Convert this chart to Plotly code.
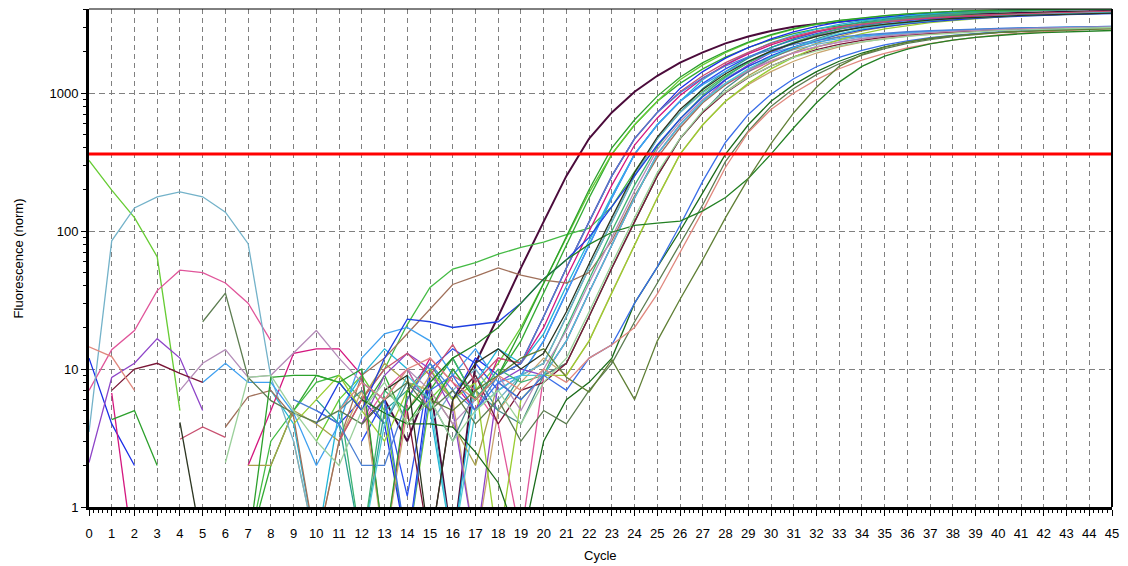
import plotly.graph_objects as go

N = None
cycles = list(range(46))
threshold = 361

c01 = [N,N,N,N,N, N,N,N,N,N, N,N,4,6,3, 8,0.5,11,24,54, 117,251,468,724,1023, 1334,1660,1972,2291,2570, 2818,3020,3163,3293,3408, 3508,3589,3652,3694,3736, 3780,3824,3868,3900,3915, 3925]
c02 = [N,N,N,N,N, N,N,0.5,2,5, 9,8,5,9,4, 7,12,6,9,16, 36,79,174,361,589, 871,1175,1496,1820,2138, 2427,2692,2917,3090,3236, 3350,3467,3548,3631,3673, 3715,3758,3802,3846,3890, 3910]
c03 = [325,198,125,65,5, N,N,N,N,N, 3,6,9,5,0.5, 6,9,7,11,20, 42,90,190,361,589, 871,1250,1600,1960,2310, 2620,2900,3150,3340,3490, 3620,3740,3830,3900,3950, 3990,4020,4040,4060,4070, 4080]
c04 = [N,N,N,N,N, N,N,0.5,3,5, 8,9,6,10,21, 39,53,59,68,76, 83,94,105,150,270, 468,724,1023,1334,1660, 1972,2291,2570,2818,3020, 3163,3293,3408,3508,3589, 3652,3694,3736,3780,3824, 3868]
c05 = [12,4,2,N,N, N,N,N,N,N, 5,4,6,4,0.5, 9,6,12,9,11, 24,54,117,251,468, 724,1080,1430,1790,2130, 2470,2770,3040,3260,3420, 3560,3680,3790,3870,3930, 3970,4010,4030,4050,4065, 4075]
c06 = [N,N,N,N,N, N,N,N,N,N, N,N,3,6,1.2, 10,14,11,7,9, 16,36,79,174,361, 589,871,1175,1496,1820, 2138,2427,2692,2917,3090, 3236,3350,3467,3548,3631, 3673,3715,3758,3802,3846, 3890]
c07 = [N,N,N,N,N, N,N,N,7,4, 0.5,5,9,14,10, 5,0.5,8,14,11, 18,40,85,180,361, 589,871,1250,1600,1960, 2310,2620,2900,3150,3340, 3490,3620,3740,3830,3900, 3950,3990,4020,4040,4060, 4070]
c08 = [N,N,N,N,N, N,N,N,N,N, 6,4,0.5,5,7, 11,6,9,5,9, 11,24,54,117,251, 468,724,1080,1430,1790, 2130,2470,2770,3040,3260, 3420,3560,3680,3790,3870, 3930,3970,4010,4030,4050, 4065]
c09 = [N,6.7,0.4,N,N, N,N,2,5,13, 14,14,9,0.5,6, 12,8,5,12,11, 20,46,100,215,420, 660,960,1280,1600,1920, 2230,2520,2780,2980,3140, 3280,3390,3490,3570,3640, 3690,3730,3770,3810,3850, 3890]
c10 = [7,13.8,19,37,52, 50,42,30,16,N, N,N,4,7,10, 5,9,7,4,0.6, 9,16,36,79,174, 361,589,871,1150,1430, 1700,1950,2160,2340,2480, 2590,2680,2750,2810,2860, 2900,2930,2960,2980,3000, 3020]
c11 = [N,N,N,N,N, N,N,2,2,5, 4,3,6,11,8, 7,4,2,8,6, 9,11,24,54,117, 251,468,724,1023,1334, 1660,1972,2291,2570,2818, 3020,3163,3293,3408,3508, 3589,3652,3694,3736,3780, 3824]
c12 = [N,N,N,N,N, N,N,N,N,3, 0.5,3,7,0.5,5, 9,6,0.5,5,8, 12,9,16,36,79, 174,361,589,871,1150, 1430,1700,1950,2160,2340, 2480,2590,2680,2750,2810, 2860,2900,2930,2960,2980, 3000]
c13 = [3.5,85,147,177,192, 177,137,81,8.7,3, 0.5,N,N,N,N, 4,7,10,6,9, 11,24,54,117,251, 468,724,1005,1290,1570, 1830,2060,2250,2410,2540, 2640,2720,2780,2835,2880, 2915,2945,2970,2990,3010, 3028]
c14 = [2.1,8.7,11,16.6,12, 5,N,N,N,N, N,N,4,9,13, 10,5,0.5,8,10, 9,16,36,79,174, 361,589,871,1250,1600, 1960,2310,2620,2900,3150, 3340,3490,3620,3740,3830, 3900,3950,3990,4020,4040, 4060]
c15 = [N,N,N,N,N, N,3.8,6.3,7,4.5, 0.5,3,9,12,18, 27,41,47,54,48, 44,42,50,85,180, 340,560,850,1150,1470, 1790,2100,2390,2650,2880, 3050,3200,3320,3440,3520, 3600,3650,3690,3730,3770, 3810]
c16 = [N,N,N,N,N, 8,11,8,8,4.8, 2,4,12,18,20, 16,9,14,8,9, 16,36,79,174,361, 589,871,1150,1430,1700, 1950,2160,2340,2480,2590, 2680,2750,2810,2860,2900, 2930,2960,2980,3000,3020, 3035]
c17 = [N,N,N,N,N, N,N,N,N,N, N,5,7,4,8, 6,3,7,5,4, 9,11,24,54,117, 251,468,724,1080,1430, 1790,2130,2470,2770,3040, 3260,3420,3560,3680,3790, 3870,3930,3970,4010,4030, 4050]
c18 = [N,7,10,11,9.3, 8,N,N,N,N, N,N,N,N,5, 0.5,6,9,4,7, 8,11,24,54,117, 251,468,724,1005,1290, 1570,1830,2060,2250,2410, 2540,2640,2720,2780,2835, 2880,2915,2945,2970,2990, 3010]
c19 = [N,N,N,N,N, N,N,N,N,4, 6,9,5,3,7, 10,6,8,0.5,6, 9,9,16,36,79, 174,361,589,871,1175, 1496,1820,2138,2427,2692, 2917,3090,3236,3350,3467, 3548,3631,3673,3715,3758, 3802]
c20 = [N,N,N,N,N, N,N,N,N,N, N,6,0.5,7,5, 8,12,6,10,8, 9,20,45,100,215, 410,650,960,1310,1670, 2010,2340,2650,2930,3170, 3360,3510,3640,3750,3840, 3900,3950,3990,4020,4040, 4055]
c21 = [N,N,N,N,3.1, 3.8,3.2,N,N,N, N,3,6,10,13, 9,15,8,12,11, 24,54,117,251,468, 724,1023,1334,1660,1972, 2291,2570,2818,3020,3163, 3293,3408,3508,3589,3652, 3694,3736,3780,3824,3868, 3900]
c22 = [N,N,N,N,N, N,N,N,N,6, 5,4,2,2,6, 11,7,5,9,11, 24,54,117,251,468, 724,1005,1290,1570,1830, 2060,2250,2410,2540,2640, 2720,2780,2835,2880,2915, 2945,2970,2990,3010,3028, 3042]
c23 = [N,N,N,N,7, 11,13.8,8.7,9,13, 19,12,8,6,10, 7,4,6,9,5, 10,19,42,90,195, 390,620,900,1180,1460, 1720,1960,2170,2340,2480, 2590,2670,2740,2800,2850, 2890,2920,2950,2975,2995, 3015]
c24 = [N,N,N,N,N, N,N,N,N,N, 4,8,5,12,23, 22,20,21,22,30, 45,62,90,150,250, 420,650,940,1250,1560, 1860,2150,2420,2660,2870, 3040,3180,3300,3400,3480, 3550,3610,3660,3700,3740, 3770]
c25 = [N,4.3,5,2,N, N,N,0.5,8.7,9, 9,8,10,0.5,7, 5,10,6,9,19, 42,92,200,400,640, 950,1300,1660,2000,2340, 2650,2930,3170,3360,3510, 3640,3750,3840,3900,3950, 3990,4020,4040,4055,4070, 4080]
c26 = [N,N,N,N,N, N,N,N,N,N, N,N,0.5,4,9, 6,0.5,5,7,9, 9,16,36,79,174, 361,589,871,1175,1496, 1820,2138,2427,2692,2917, 3090,3236,3350,3467,3548, 3631,3673,3715,3758,3802, 3846]
c27 = [N,N,N,N,N, N,N,N,N,N, N,N,6,4.8,4, 4,3.8,2.5,1.5,0.5, 3,6,8,12,30, 55,100,190,361,589, 871,1150,1430,1700,1950, 2160,2340,2480,2590,2680, 2750,2810,2860,2900,2930, 2960]
c28 = [N,N,N,N,N, N,N,N,N,N, N,N,8,6,0.5, 7,9,5,8,6, 9,7,12,15,30, 55,110,230,440,700, 980,1270,1550,1810,2040, 2230,2390,2520,2620,2700, 2770,2820,2870,2905,2935, 2960]
c29 = [N,N,N,N,N, 22,35.5,8.7,5.9,4.8, 4.1,5,4,6,8, 5,7,4,6,3, 5,4,7,11,22, 42,80,155,320,530, 800,1080,1360,1630,1880, 2100,2290,2440,2560,2660, 2740,2800,2850,2890,2925, 2955]
c30 = [14.5,12.3,7,N,N, N,N,N,N,N, N,5,8,6,10, 12,8,6,9,7, 10,8,12,15,20, 35,70,140,290,520, 760,1000,1250,1500,1730, 1940,2120,2280,2420,2540, 2640,2720,2790,2850,2900, 2940]
c31 = [N,N,N,N,N, N,N,N,N,N, N,N,N,N,5, 8,12,15,20,30, 45,62,80,98,110, 114,118,140,175,240, 361,560,850,1200,1560, 1850,2080,2270,2420,2530, 2620,2690,2740,2780,2810, 2840]
c32 = [N,N,N,N,N, N,N,N,N,N, N,N,N,N,4, 6,5,7,9,12, 14,8.7,6.8,11.7,6, 16,32,62,125,240, 430,720,1100,1560,1900, 2150,2350,2500,2610,2690, 2750,2800,2840,2870,2900, 2920]
c33 = [N,N,N,N,4.1, 0.5,N,N,N,N, N,N,N,7,9, 0.5,6,11,14,10, 13,26,58,125,265, 480,760,1060,1380,1700, 2010,2300,2570,2800,2990, 3140,3270,3380,3470,3540, 3600,3650,3690,3730,3760, 3790]
c34 = [N,N,N,N,N, N,2.1,8.7,9,5, 3,2,5,8,4, 6,3,5,7,4, 8,12,26,58,125, 265,470,740,1020,1300, 1570,1810,2020,2200,2350, 2470,2570,2650,2720,2780, 2830,2870,2905,2935,2960, 2985]

series = [
    ("A01", "#4b0b3b", c01), ("A02", "#33aa33", c02), ("A03", "#66cc33", c03),
    ("A04", "#44bb44", c04), ("A05", "#1a2ee8", c05), ("A06", "#2b50f0", c06),
    ("A07", "#22b5d8", c07), ("A08", "#2a9d8f", c08), ("A09", "#d4177f", c09),
    ("A10", "#e0559a", c10), ("A11", "#a9a14a", c11), ("A12", "#c9a56e", c12),
    ("A13", "#73b2c9", c13), ("A14", "#8e44c8", c14), ("A15", "#a0705a", c15),
    ("A16", "#3fa0f0", c16), ("A17", "#4a8a8a", c17), ("A18", "#7a1636", c18),
    ("A19", "#9acd32", c19), ("A20", "#3cb371", c20), ("A21", "#c85070", c21),
    ("A22", "#4a7fd4", c22), ("A23", "#b48cb8", c23), ("A24", "#1f3fe0", c24),
    ("A25", "#2ca02c", c25), ("A26", "#4cc8d4", c26), ("A27", "#1a6b1a", c27),
    ("A28", "#3a6ee8", c28), ("A29", "#5c7c50", c29), ("A30", "#e0887e", c30),
    ("A31", "#238023", c31), ("A32", "#5f7f35", c32), ("A33", "#2b3520", c33),
    ("A34", "#9bd09b", c34),
]
for name, _, vals in series:
    assert len(vals) == 46, (name, len(vals))

fig = go.Figure()
for name, color, vals in series:
    width = 2 if name == "A01" else 1.3
    fig.add_trace(go.Scatter(x=cycles, y=vals, mode="lines", name=name,
                             line=dict(color=color, width=width), connectgaps=False))

fig.add_trace(go.Scatter(x=[0, 45], y=[threshold, threshold], mode="lines",
                         name="Threshold", line=dict(color="#ff0000", width=3)))

font_family = "Liberation Sans, Arial, sans-serif"
fig.update_layout(
    width=1128, height=566,
    margin=dict(l=89, r=12, t=9, b=59),
    paper_bgcolor="white", plot_bgcolor="white",
    showlegend=False,
    font=dict(family=font_family, size=13, color="black"),
)
fig.update_xaxes(
    range=[0, 45], tick0=0, dtick=1,
    ticks="outside", ticklen=6, tickcolor="black", tickwidth=1,
    showline=True, linewidth=3, linecolor="black",
    showgrid=True, gridcolor="#808080", gridwidth=1, griddash="5px,4px",
    zeroline=False,
    minor=dict(dtick=0.2, ticks="outside", ticklen=3, tickcolor="black", showgrid=False),
    tickfont=dict(family=font_family, size=13, color="black"),
    ticklabelstandoff=6,
)
minor_y = [2, 3, 4, 5, 6, 7, 8, 9, 20, 30, 40, 50, 60, 70, 80, 90,
           200, 300, 400, 500, 600, 700, 800, 900, 2000, 3000, 4000]
fig.update_yaxes(
    type="log", range=[0, 3.609],
    tickmode="array", tickvals=[1, 10, 100, 1000], ticktext=["1", "10", "100", "1000"],
    ticks="outside", ticklen=5, tickcolor="black",
    showline=True, linewidth=3, linecolor="black",
    showgrid=True, gridcolor="#808080", gridwidth=1, griddash="6px,4px",
    zeroline=False,
    minor=dict(tickmode="array", tickvals=minor_y, ticks="outside", ticklen=3,
               tickcolor="black", showgrid=False),
    tickfont=dict(family=font_family, size=13, color="black"),
)
fig.add_shape(type="line", xref="paper", yref="paper", x0=0, x1=1, y0=1, y1=1,
              line=dict(color="black", width=1))
fig.add_shape(type="line", xref="paper", yref="paper", x0=1, x1=1, y0=0, y1=1,
              line=dict(color="black", width=2))
fig.add_annotation(text="Cycle", xref="paper", yref="paper", x=0.5, y=-0.098,
                   showarrow=False, font=dict(family=font_family, size=13, color="black"),
                   yanchor="middle")
fig.add_annotation(text="Fluorescence (norm)", xref="paper", yref="paper", x=-0.069, y=0.5,
                   textangle=-90, showarrow=False,
                   font=dict(family=font_family, size=13, color="black"),
                   xanchor="center", yanchor="middle")

fig.write_html("out.html")
